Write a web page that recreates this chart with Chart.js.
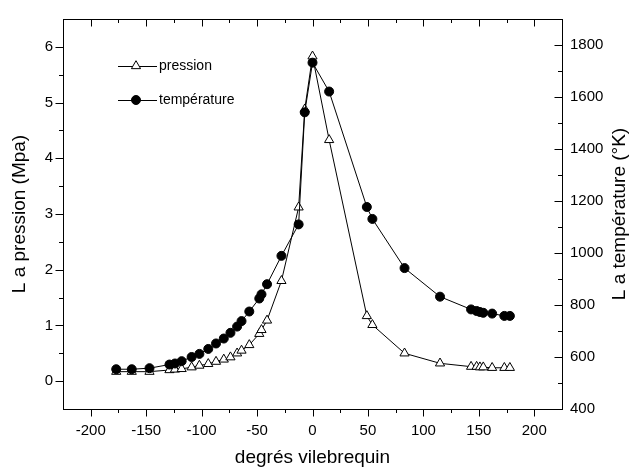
<!DOCTYPE html>
<html>
<head>
<meta charset="utf-8">
<script src="https://cdn.jsdelivr.net/npm/chart.js@4.4.0/dist/chart.umd.min.js"></script>
<style>
  html, body { margin: 0; padding: 0; background: #fff; }
</style>
</head>
<body>
<canvas id="chart" width="641" height="475"></canvas>
<script>
// crank angle (degrés vilebrequin)
const angles = [-177, -163, -147, -129, -124, -118, -109, -102, -94, -87, -80, -74, -68, -64, -57, -48, -46, -41, -28, -12.5,
                -7, 0, 15, 49, 54, 83, 115, 143, 148, 151, 154, 162, 173, 178];
// pressure, MPa
const pressure = [0.17, 0.17, 0.17, 0.20, 0.21, 0.22, 0.25, 0.28, 0.31, 0.35, 0.39, 0.43, 0.50, 0.55, 0.65, 0.85, 0.92, 1.09, 1.80, 3.12,
                  4.88, 5.83, 4.33, 1.17, 1.01, 0.50, 0.32, 0.26, 0.26, 0.25, 0.25, 0.24, 0.24, 0.24];
// temperature, °K
const temperature = [553, 553, 557, 571, 575, 584, 600, 612, 631, 652, 671, 693, 717, 738, 775, 825, 841, 880, 989, 1110,
                     1541, 1732, 1621, 1177, 1131, 942, 832, 783, 777, 773, 770, 767, 758, 758];

const xTickValues = [-200, -150, -100, -50, 0, 50, 100, 150, 200];
const pressureTicks = [0, 1, 2, 3, 4, 5, 6];
const temperatureTicks = [400, 600, 800, 1000, 1200, 1400, 1600, 1800];

const FONT = '"Liberation Sans", Arial, sans-serif';

// tick marks: outward on left/bottom, inward on top/right, minor ticks halfway
const frameTicks = {
    id: 'frameTicks',
    afterDraw(chart) {
        const { ctx, chartArea: a, scales } = chart;
        const withMinor = vals => {
            const out = [];
            vals.forEach((v, i) => {
                out.push([v, 7.5]);
                if (i < vals.length - 1) out.push([(v + vals[i + 1]) / 2, 4]);
            });
            if (vals.length > 1) {
                const step = vals[1] - vals[0];
                out.unshift([vals[0] - step / 2, 4]);
                out.push([vals[vals.length - 1] + step / 2, 4]);
            }
            return out;
        };
        const px = v => Math.round(v) + 0.5;
        ctx.save();
        ctx.strokeStyle = '#000';
        ctx.lineWidth = 1;
        ctx.beginPath();
        ctx.moveTo(a.left, px(a.top));
        ctx.lineTo(a.right, px(a.top));

        withMinor(xTickValues).forEach(([v, len]) => {
            const x = scales.x.getPixelForValue(v);
            if (x <= a.left + 1 || x >= a.right - 1) return;
            ctx.moveTo(px(x), a.bottom);
            ctx.lineTo(px(x), a.bottom + len);
            ctx.moveTo(px(x), a.top);
            ctx.lineTo(px(x), a.top + len);
        });
        withMinor(pressureTicks).forEach(([v, len]) => {
            const y = scales.y.getPixelForValue(v);
            if (y <= a.top + 1 || y >= a.bottom - 1) return;
            ctx.moveTo(a.left, px(y));
            ctx.lineTo(a.left - len, px(y));
        });
        withMinor(temperatureTicks).forEach(([v, len]) => {
            const y = scales.y2.getPixelForValue(v);
            if (y <= a.top + 1 || y >= a.bottom - 1) return;
            ctx.moveTo(a.right, px(y));
            ctx.lineTo(a.right - len, px(y));
        });
        ctx.stroke();

        // right axis title, reading bottom to top
        ctx.fillStyle = '#000';
        ctx.font = '19px ' + FONT;
        ctx.textAlign = 'center';
        ctx.textBaseline = 'middle';
        ctx.translate(620, (a.top + a.bottom) / 2);
        ctx.rotate(-Math.PI / 2);
        ctx.fillText('L a température (°K)', 0, 0);
        ctx.restore();
    }
};

// legend drawn inside the plot, upper left
const innerLegend = {
    id: 'innerLegend',
    afterDatasetsDraw(chart) {
        const { ctx } = chart;
        const rows = [chart.data.datasets[1], chart.data.datasets[0]];
        ctx.save();
        rows.forEach((ds, i) => {
            const y = 66 + i * 34;
            ctx.strokeStyle = '#000';
            ctx.lineWidth = 1;
            ctx.beginPath();
            ctx.moveTo(118, y + 0.5);
            ctx.lineTo(157, y + 0.5);
            ctx.stroke();
            ctx.fillStyle = ds.pointBackgroundColor;
            ctx.strokeStyle = ds.pointBorderColor;
            Chart.helpers.drawPoint(ctx, {
                pointStyle: ds.pointStyle, radius: ds.pointRadius, rotation: 0, borderWidth: 1
            }, 136, y);
            ctx.fillStyle = '#000';
            ctx.font = '14px ' + FONT;
            ctx.textAlign = 'left';
            ctx.textBaseline = 'middle';
            ctx.fillText(ds.label, 159, y);
        });
        ctx.restore();
    }
};

const tickFont = { family: FONT, size: 15 };
const titleFont = { family: FONT, size: 19 };
const plain = v => String(v);

new Chart(document.getElementById('chart'), {
    type: 'line',
    data: {
        datasets: [
            {
                label: 'température',
                data: angles.map((a, i) => ({ x: a, y: temperature[i] })),
                yAxisID: 'y2',
                borderColor: '#000',
                borderWidth: 1,
                pointStyle: 'circle',
                pointRadius: 4.5,
                pointBackgroundColor: '#000',
                pointBorderColor: '#000',
                pointBorderWidth: 1,
                tension: 0,
                fill: false,
                order: 0
            },
            {
                label: 'pression',
                data: angles.map((a, i) => ({ x: a, y: pressure[i] })),
                yAxisID: 'y',
                borderColor: '#000',
                borderWidth: 1,
                pointStyle: 'triangle',
                pointRadius: 5.3,
                pointBackgroundColor: '#fff',
                pointBorderColor: '#000',
                pointBorderWidth: 1,
                tension: 0,
                fill: false,
                order: 1
            }
        ]
    },
    options: {
        responsive: false,
        animation: false,
        devicePixelRatio: 1,
        layout: { padding: { top: 4, left: 0, right: 0, bottom: 0 } },
        plugins: { legend: { display: false }, tooltip: { enabled: false } },
        scales: {
            x: {
                type: 'linear',
                position: 'bottom',
                min: -225,
                max: 225,
                afterBuildTicks: s => { s.ticks = xTickValues.map(v => ({ value: v })); },
                afterFit: s => { s.height = 66; },
                grid: { display: true, drawOnChartArea: false, drawTicks: false },
                border: { display: true, color: '#000', width: 1 },
                ticks: { font: tickFont, color: '#000', padding: 13, maxRotation: 0, autoSkip: false, callback: plain },
                title: { display: true, text: 'degrés vilebrequin', font: titleFont, color: '#000', padding: { top: 0, bottom: 6 } }
            },
            y: {
                type: 'linear',
                position: 'left',
                min: -0.5,
                max: 6.5,
                afterBuildTicks: s => { s.ticks = pressureTicks.map(v => ({ value: v })); },
                afterFit: s => { s.width = 63; },
                grid: { display: true, drawOnChartArea: false, drawTicks: false },
                border: { display: true, color: '#000', width: 1 },
                ticks: { font: tickFont, color: '#000', padding: 10, callback: plain },
                title: { display: true, text: 'L a pression (Mpa)', font: titleFont, color: '#000', padding: { top: 8, bottom: 0 } }
            },
            y2: {
                type: 'linear',
                position: 'right',
                min: 400,
                max: 1900,
                afterBuildTicks: s => { s.ticks = temperatureTicks.map(v => ({ value: v })); },
                afterFit: s => { s.width = 79; },
                grid: { display: true, drawOnChartArea: false, drawTicks: false },
                border: { display: true, color: '#000', width: 1 },
                ticks: { font: tickFont, color: '#000', padding: 8, callback: plain }
            }
        }
    },
    plugins: [frameTicks, innerLegend]
});
</script>
</body>
</html>
